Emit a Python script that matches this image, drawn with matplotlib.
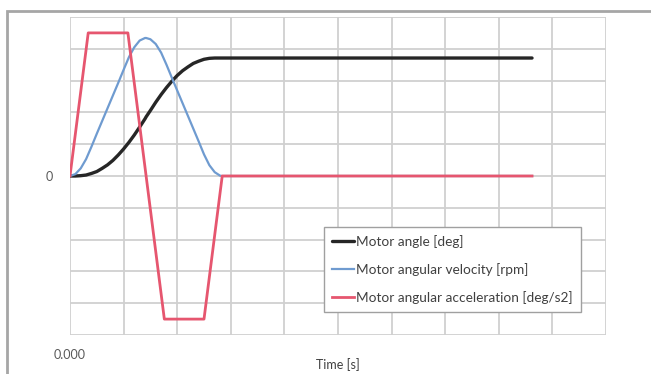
import matplotlib
matplotlib.use("Agg")
import matplotlib.pyplot as plt
from matplotlib.patches import Rectangle

plt.rcParams['font.family'] = ['Lato', 'DejaVu Sans']

# Motion profile samples (time in seconds)
time_s = [0.00, 0.01, 0.02, 0.03, 0.04, 0.05, 0.06, 0.07, 0.08, 0.09,
          0.10, 0.11, 0.12, 0.13, 0.14, 0.142, 0.15, 0.16, 0.17, 0.18,
          0.19, 0.20, 0.21, 0.22, 0.23, 0.24, 0.25, 0.26, 0.27, 0.28,
          0.284, 0.862]

motor_angle = [0.00, 0.00, 0.01, 0.03, 0.08, 0.14, 0.24, 0.35, 0.49, 0.66,
               0.85, 1.06, 1.29, 1.54, 1.80, 1.86, 2.06, 2.32, 2.56, 2.78,
               2.98, 3.16, 3.31, 3.43, 3.54, 3.61, 3.67, 3.70, 3.71, 3.71,
               3.71, 3.71]

motor_velocity = [0.00, 0.06, 0.24, 0.53, 0.92, 1.33, 1.73, 2.13, 2.53, 2.93,
                  3.34, 3.74, 4.05, 4.26, 4.34, 4.34, 4.30, 4.15, 3.88, 3.50,
                  3.09, 2.69, 2.29, 1.89, 1.49, 1.09, 0.68, 0.34, 0.12, 0.01,
                  0.00, 0.00]

accel_time_s = [0.000, 0.034, 0.108, 0.142, 0.176, 0.250, 0.284, 0.862]
motor_accel = [0.0, 4.5, 4.5, 0.0, -4.5, -4.5, 0.0, 0.0]

series_labels = ["Motor angle [deg]",
                 "Motor angular velocity [rpm]",
                 "Motor angular acceleration [deg/s2]"]

W, H = 651, 374
fig = plt.figure(figsize=(W / 100, H / 100), dpi=100)

# outer chart frame
fig.patches.append(Rectangle((7 / W, -0.1), 1.0, 1 - 11 / H + 0.1,
                             transform=fig.transFigure, fill=False,
                             edgecolor='#a6a6a6', linewidth=2.0))

ax = fig.add_axes([70 / W, 1 - 335 / H, (606 - 70) / W, (335 - 17) / H])

ax.set_xlim(0, 1.0)
ax.set_ylim(-5, 5)
ax.set_xticks([i / 10 for i in range(11)])
ax.set_yticks(range(-5, 6))
ax.set_xticklabels(["0.000"] + [""] * 10)
ax.set_yticklabels([""] * 5 + ["0"] + [""] * 5)
ax.tick_params(length=0, labelsize=9, colors='#595959')
ax.tick_params(axis='x', pad=10)
ax.tick_params(axis='y', pad=12)
for s in ax.spines.values():
    s.set_visible(False)
ax.grid(True, color='#d0d0d0', linewidth=1.3)
ax.set_axisbelow(True)

ax.plot(time_s, motor_angle, color='#262626', linewidth=2.4,
        label=series_labels[0], solid_capstyle='round')
ax.plot(time_s, motor_velocity, color='#6f9bd0', linewidth=1.6,
        label=series_labels[1])
ax.plot(accel_time_s, motor_accel, color='#e6566f', linewidth=2.0,
        label=series_labels[2])

# axis title below the plot
fig.text(338 / W, 1 - 365 / H, "Time [s]", fontsize=9, color='#404040',
         ha='center', va='center')

leg = ax.legend(loc='upper left', bbox_to_anchor=(324 / W, 1 - 227 / H),
                bbox_transform=fig.transFigure, fontsize=9.8,
                frameon=True, fancybox=False, edgecolor='#a0a0a0',
                framealpha=1.0, handlelength=1.6, handletextpad=0.15,
                labelspacing=1.1, borderpad=0.6, borderaxespad=0)
leg.get_frame().set_linewidth(1.0)
for t in leg.get_texts():
    t.set_color('#404040')

fig.savefig("out.png", dpi=100)
